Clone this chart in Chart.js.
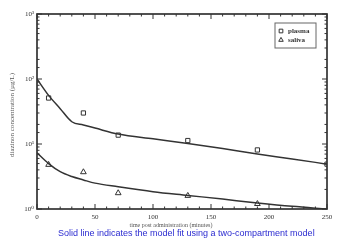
<!DOCTYPE html>
<html lang="en">
<head>
<meta charset="UTF-8">
<title>Diazinon concentration</title>
<script src="https://cdn.jsdelivr.net/npm/chart.js@4.4.0/dist/chart.umd.min.js"></script>
<style>
    body { margin: 0; background: #fff; }
    #wrap { position: relative; width: 338px; height: 244px; }
    #caption {
        position: absolute; left: 58px; top: 228px; white-space: nowrap;
        color: #2b2bd0;
        font-family: 'Liberation Sans', Arial, sans-serif; font-size: 9px;
    }
</style>
</head>
<body>
<div id="wrap">
    <canvas id="chart" width="338" height="244"></canvas>
    <div id="caption">Solid line indicates the model fit using a two-compartment model</div>
</div>
<script>
// observed points
const plasmaTimes = [10, 40, 70, 130, 190, 250];
const plasmaConc = [51, 30, 13.7, 11.3, 8.1, 4.9];
const salivaTimes = [10, 40, 70, 130, 190];
const salivaConc = [4.8, 3.7, 1.76, 1.6, 1.2];

// model fit curves
const fitTimes = [0, 10, 20, 30, 40, 50, 70, 100, 130, 160, 190, 220, 250];
const plasmaFit = [100, 56, 35, 22, 19.6, 17.6, 14.2, 12.0, 10.2, 8.5, 7.0, 5.9, 4.9];
const salivaFit = [7.3, 5.0, 3.75, 3.16, 2.8, 2.5, 2.2, 1.85, 1.62, 1.42, 1.24, 1.1, 1.0];

const yLabels = { 1: '10\u2070', 10: '10\u00b9', 100: '10\u00b2', 1000: '10\u00b3' };
const xTitle = 'time post administration (minutes)';
const yTitle = 'diazinon concentration (\u00b5g/L)';
const ink = '#333';
const serif = "'Liberation Serif', 'DejaVu Serif', serif";

const pts = (xs, ys) => xs.map((x, i) => ({ x: x, y: ys[i] }));

// inward ticks on all four sides, the frame, axis titles and boxed legend
const framePlugin = {
    id: 'frame',
    afterDraw(chart) {
        const ctx = chart.ctx;
        const a = chart.chartArea;
        ctx.save();
        ctx.strokeStyle = ink;
        ctx.lineWidth = 1;
        chart.scales.x.ticks.forEach(t => {
            const px = chart.scales.x.getPixelForValue(t.value);
            const len = Math.round(t.value) % 50 === 0 ? 5 : 2.5;
            ctx.beginPath();
            ctx.moveTo(px, a.bottom); ctx.lineTo(px, a.bottom - len);
            ctx.moveTo(px, a.top); ctx.lineTo(px, a.top + len);
            ctx.stroke();
        });
        chart.scales.y.ticks.forEach(t => {
            const py = chart.scales.y.getPixelForValue(t.value);
            const len = yLabels[t.value] ? 5 : 2.5;
            ctx.beginPath();
            ctx.moveTo(a.left, py); ctx.lineTo(a.left + len, py);
            ctx.moveTo(a.right, py); ctx.lineTo(a.right - len, py);
            ctx.stroke();
        });
        ctx.lineWidth = 1.7;
        ctx.strokeRect(a.left, a.top, a.right - a.left, a.bottom - a.top);

        // axis titles
        ctx.fillStyle = '#555';
        ctx.textAlign = 'center';
        ctx.textBaseline = 'middle';
        ctx.font = '6px ' + serif;
        ctx.fillText(xTitle, 171, 225);
        ctx.save();
        ctx.translate(12, 115);
        ctx.rotate(-Math.PI / 2);
        ctx.font = '7px ' + serif;
        ctx.fillText(yTitle, 0, 0);
        ctx.restore();

        // legend box
        const lx = 275, ly = 23, lw = 41, lh = 25;
        ctx.lineWidth = 1;
        ctx.strokeStyle = '#666';
        ctx.strokeRect(lx, ly, lw, lh);
        ctx.font = 'bold 7px ' + serif;
        ctx.textAlign = 'left';
        const legendSets = [chart.data.datasets[0], chart.data.datasets[1]];
        legendSets.forEach((ds, i) => {
            const cy = ly + 8 + i * 9;
            ctx.fillStyle = '#fff';
            ctx.strokeStyle = ink;
            Chart.helpers.drawPoint(ctx, {
                pointStyle: ds.pointStyle, radius: 2.6, borderWidth: 1
            }, lx + 6, cy);
            ctx.fillStyle = ink;
            ctx.fillText(ds.label, lx + 13, cy);
        });
        ctx.restore();
    }
};

new Chart(document.getElementById('chart'), {
    type: 'line',
    data: {
        datasets: [
            {
                label: 'plasma', data: pts(plasmaTimes, plasmaConc), showLine: false,
                pointStyle: 'rect', pointRadius: 3, borderColor: ink, backgroundColor: 'rgba(0,0,0,0)', borderWidth: 1
            },
            {
                label: 'saliva', data: pts(salivaTimes, salivaConc), showLine: false,
                pointStyle: 'triangle', pointRadius: 3.3, borderColor: ink, backgroundColor: 'rgba(0,0,0,0)', borderWidth: 1
            },
            {
                label: 'plasma fit', data: pts(fitTimes, plasmaFit), pointRadius: 0,
                borderColor: ink, borderWidth: 1.5, cubicInterpolationMode: 'monotone'
            },
            {
                label: 'saliva fit', data: pts(fitTimes, salivaFit), pointRadius: 0,
                borderColor: ink, borderWidth: 1.5, cubicInterpolationMode: 'monotone'
            }
        ]
    },
    options: {
        responsive: false,
        animation: false,
        layout: { padding: { top: 14, right: 11, left: 0, bottom: 17 } },
        plugins: { legend: { display: false }, tooltip: { enabled: false } },
        scales: {
            x: {
                type: 'linear', min: 0, max: 250,
                grid: { display: false, drawTicks: false },
                border: { display: false },
                ticks: {
                    stepSize: 10, autoSkip: false, maxRotation: 0, padding: 4,
                    color: ink, font: { family: serif, size: 7 },
                    callback: v => (Math.round(v) % 50 === 0 ? String(Math.round(v)) : '')
                },
                afterFit: s => { s.height = 18; }
            },
            y: {
                type: 'logarithmic', min: 1, max: 1000,
                grid: { display: false, drawTicks: false },
                border: { display: false },
                ticks: {
                    autoSkip: false, padding: 3,
                    color: ink, font: { family: serif, size: 7 },
                    callback: v => yLabels[v] || ''
                },
                afterFit: s => { s.width = 37; }
            }
        }
    },
    plugins: [framePlugin]
});
</script>
</body>
</html>
